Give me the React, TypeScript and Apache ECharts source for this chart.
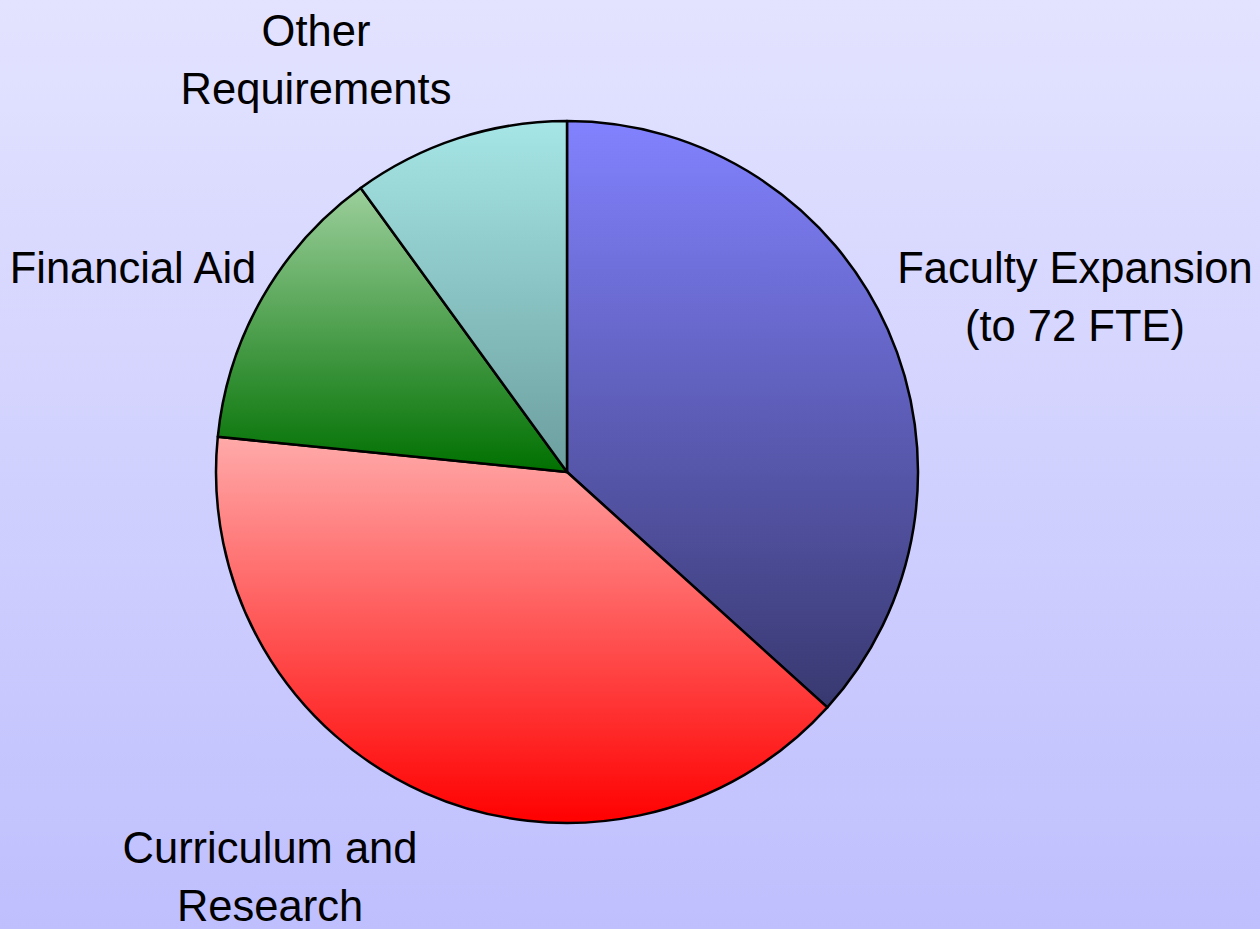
import React, { useEffect, useRef } from "react";
import * as echarts from "echarts";

const categories = [
  "Faculty Expansion\n(to 72 FTE)",
  "Curriculum and\nResearch",
  "Financial Aid",
  "Other\nRequirements",
];
const values = [36.7, 39.9, 13.4, 10.0];

const gradientTop = ["#8282ff", "#ffaaaa", "#9ccf9c", "#a6e6e6"];
const gradientBottom = ["#383870", "#ff0000", "#007000", "#6c9e9e"];

const labelAnchors: [number, number][] = [
  [1075, 297],
  [270, 877],
  [133, 268],
  [316, 60],
];

export default function App() {
  const ref = useRef<HTMLDivElement>(null);
  useEffect(() => {
    document.body.style.margin = "0";
    if (!ref.current) return;
    const chart = echarts.init(ref.current, undefined, { renderer: "svg" });
    chart.setOption({
      animation: false,
      backgroundColor: new echarts.graphic.LinearGradient(0, 0, 0, 1, [
        { offset: 0, color: "#e3e3ff" },
        { offset: 1, color: "#bfbffe" },
      ]),
      series: [
        {
          type: "pie",
          center: [567, 472],
          radius: 351,
          startAngle: 90,
          clockwise: true,
          avoidLabelOverlap: false,
          label: {
            show: true,
            position: "outside",
            formatter: "{b}",
            fontFamily: "'Liberation Sans', Arial, sans-serif",
            fontSize: 43.5,
            lineHeight: 58,
            color: "#000",
            align: "center",
          },
          labelLine: { show: false },
          labelLayout: (params: any) => {
            const p = labelAnchors[params.dataIndex];
            return { x: p[0], y: p[1], align: "center", verticalAlign: "middle" };
          },
          itemStyle: { borderColor: "#000", borderWidth: 2.5 },
          emphasis: { disabled: true },
          data: categories.map((name, i) => ({
            name,
            value: values[i],
            itemStyle: {
              color: new echarts.graphic.LinearGradient(0, 0, 0, 1, [
                { offset: 0, color: gradientTop[i] },
                { offset: 1, color: gradientBottom[i] },
              ]),
            },
          })),
        },
      ],
    });
    return () => chart.dispose();
  }, []);
  return <div ref={ref} style={{ width: 1260, height: 929 }} />;
}
